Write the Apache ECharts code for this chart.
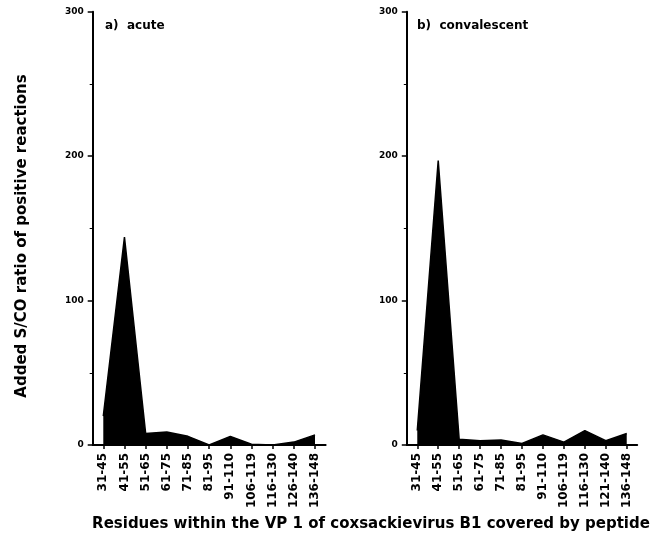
<!DOCTYPE html>
<html><head><meta charset="utf-8">
<script src="https://cdn.jsdelivr.net/npm/echarts@6/dist/echarts.min.js"></script>
<style>html,body{margin:0;padding:0;background:#fff}#c{width:652px;height:543px}</style>
</head><body><div id="c"></div>
<script>
const catsAcute = ['31-45','41-55','51-65','61-75','71-85','81-95','91-110','106-119','116-130','126-140','136-148'];
const catsConv  = ['31-45','41-55','51-65','61-75','71-85','81-95','91-110','106-119','116-130','121-140','136-148'];
const acuteVals = [20,144,8,9,6,0,6,0.5,0,2,7];
const convVals  = [10,197,4,3,3.5,1,7,2,10,3,8];
const yMin = 0, yMax = 300, yStep = 100;
const panelTitles = ['a)  acute','b)  convalescent'];
const xTitle = 'Residues within the VP 1 of coxsackievirus B1 covered by peptide';
const yTitle = 'Added S/CO ratio of positive reactions';

const FONT = 'DejaVu Sans';
const chart = echarts.init(document.getElementById('c'), null, {renderer:'canvas'});

function yAx(i){
  return {
    gridIndex:i, type:'value', min:yMin, max:yMax, interval:yStep,
    axisLine:{show:true, lineStyle:{color:'#000', width:2}},
    axisTick:{show:true, length:5, lineStyle:{color:'#000', width:1.5}},
    minorTick:{show:true, splitNumber:2, length:3, lineStyle:{color:'#000', width:1}},
    splitLine:{show:false},
    axisLabel:{color:'#000', fontFamily:FONT, fontWeight:'bold', fontSize:9, margin:9}
  };
}
function xAx(i, cats){
  return {
    gridIndex:i, type:'category', data:cats, boundaryGap:true,
    axisLine:{show:true, lineStyle:{color:'#000', width:2}},
    axisTick:{show:true, alignWithLabel:true, length:4, lineStyle:{color:'#000', width:1.5}},
    axisLabel:{rotate:90, interval:0, color:'#000', fontFamily:FONT, fontWeight:'bold', fontSize:12, margin:8}
  };
}
function ser(i, vals){
  return {
    type:'line', xAxisIndex:i, yAxisIndex:i, data:vals, symbol:'none', smooth:false,
    lineStyle:{color:'#000', width:1.5}, areaStyle:{color:'#000', opacity:1}, silent:true
  };
}

chart.setOption({
  animation:false,
  backgroundColor:'#fff',
  title:[
    {text:panelTitles[0], left:100, top:15, textStyle:{fontFamily:FONT, fontWeight:'bold', fontSize:12, color:'#000'}},
    {text:panelTitles[1], left:412, top:15, textStyle:{fontFamily:FONT, fontWeight:'bold', fontSize:12, color:'#000'}}
  ],
  grid:[
    {left:92.7, right:326.4, top:11.7, bottom:98},
    {left:406.8, right:14.8, top:11.7, bottom:98}
  ],
  xAxis:[xAx(0,catsAcute), xAx(1,catsConv)],
  yAxis:[yAx(0), yAx(1)],
  series:[ser(0,acuteVals), ser(1,convVals)],
  graphic:[
    {type:'text', x:371, y:524, style:{text:xTitle, fontFamily:FONT, fontWeight:'bold', fontSize:15, fill:'#000', align:'center', verticalAlign:'middle'}},
    {type:'text', x:22, y:236, rotation:Math.PI/2, style:{text:yTitle, fontFamily:FONT, fontWeight:'bold', fontSize:15, fill:'#000', align:'center', verticalAlign:'middle'}}
  ]
});
</script>
</body></html>
